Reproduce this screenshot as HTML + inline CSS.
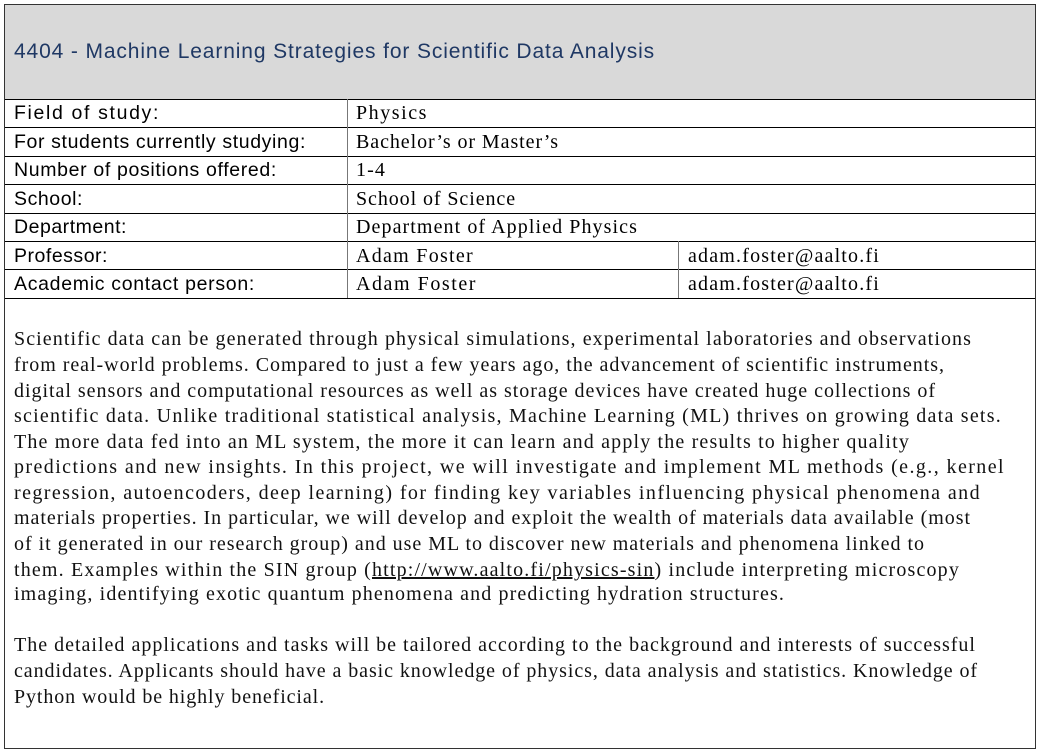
<!DOCTYPE html>
<html><head><meta charset="utf-8"><style>
body{margin:0;width:1039px;height:752px;background:#fff;position:relative;overflow:hidden}
.a{position:absolute}
.h{background:#000;height:1px}
.v{background:#000;width:1px}
.l{position:absolute;left:14px;font-family:"Liberation Sans",sans-serif;font-size:19.5px;color:#000;white-space:nowrap;line-height:28px}
.r{position:absolute;font-family:"Liberation Serif",serif;font-size:20px;color:#000;white-space:nowrap;line-height:28px}
.b{position:absolute;left:14px;font-family:"Liberation Serif",serif;font-size:20px;color:#111;white-space:nowrap;line-height:26px}
</style></head><body>
<div class="a" style="left:4px;top:4px;width:1030px;height:743px;border:1px solid #333"></div>
<div class="a" style="left:5px;top:5px;width:1030px;height:94px;background:#d9d9d9"></div>
<div class="a fit" data-w="641" style="left:14px;top:40px;font-family:'Liberation Sans',sans-serif;font-size:21px;color:#1f3864;white-space:nowrap">4404 - Machine Learning Strategies for Scientific Data Analysis</div>
<div id="grid"></div>
<div class="l fit" data-w="146" style="top:99px">Field of study:</div>
<div class="r fit" data-w="72" style="left:356px;top:99px">Physics</div>
<div class="l fit" data-w="292" style="top:128px">For students currently studying:</div>
<div class="r fit" data-w="203" style="left:356px;top:128px">Bachelor’s or Master’s</div>
<div class="l fit" data-w="263" style="top:156px">Number of positions offered:</div>
<div class="r fit" data-w="30" style="left:356px;top:156px">1-4</div>
<div class="l fit" data-w="69" style="top:185px">School:</div>
<div class="r fit" data-w="160" style="left:356px;top:185px">School of Science</div>
<div class="l fit" data-w="113" style="top:213px">Department:</div>
<div class="r fit" data-w="282" style="left:356px;top:213px">Department of Applied Physics</div>
<div class="l fit" data-w="94" style="top:242px">Professor:</div>
<div class="r fit" data-w="118" style="left:356px;top:242px">Adam Foster</div>
<div class="r fit" data-w="192" style="left:688px;top:242px">adam.foster@aalto.fi</div>
<div class="l fit" data-w="241" style="top:270px">Academic contact person:</div>
<div class="r fit" data-w="121" style="left:356px;top:270px">Adam Foster</div>
<div class="r fit" data-w="192" style="left:688px;top:270px">adam.foster@aalto.fi</div>

<div id="body">
<div class="b fit" data-w="958" style="top:326px">Scientific data can be generated through physical simulations, experimental laboratories and observations</div>
<div class="b fit" data-w="931" style="top:352px">from real-world problems. Compared to just a few years ago, the advancement of scientific instruments,</div>
<div class="b fit" data-w="922" style="top:378px">digital sensors and computational resources as well as storage devices have created huge collections of</div>
<div class="b fit" data-w="988" style="top:403px">scientific data. Unlike traditional statistical analysis, Machine Learning (ML) thrives on growing data sets.</div>
<div class="b fit" data-w="896" style="top:429px">The more data fed into an ML system, the more it can learn and apply the results to higher quality</div>
<div class="b fit" data-w="991" style="top:454px">predictions and new insights. In this project, we will investigate and implement ML methods (e.g., kernel</div>
<div class="b fit" data-w="967" style="top:480px">regression, autoencoders, deep learning) for finding key variables influencing physical phenomena and</div>
<div class="b fit" data-w="957" style="top:505px">materials properties. In particular, we will develop and exploit the wealth of materials data available (most</div>
<div class="b fit" data-w="911" style="top:531px">of it generated in our research group) and use ML to discover new materials and phenomena linked to</div>
<div class="b fit" data-w="946" style="top:557px">them. Examples within the SIN group (<span style="text-decoration:underline">http://www.aalto.fi/physics-sin</span>) include interpreting microscopy</div>
<div class="b fit" data-w="771" style="top:581px">imaging, identifying exotic quantum phenomena and predicting hydration structures.</div>
<div class="b fit" data-w="962" style="top:632px">The detailed applications and tasks will be tailored according to the background and interests of successful</div>
<div class="b fit" data-w="964" style="top:658px">candidates. Applicants should have a basic knowledge of physics, data analysis and statistics. Knowledge of</div>
<div class="b fit" data-w="311" style="top:684px">Python would be highly beneficial.</div>
</div>
<script>
var g=document.getElementById('grid');
var hs=[[5,99,1030],[5,127,1030],[5,156,1030],[5,184,1030],[5,213,1030],[5,241,1030],[5,269,1030],[5,298,1030]];
hs.forEach(function(h){var d=document.createElement('div');d.className='a h';d.style.left=h[0]+'px';d.style.top=h[1]+'px';d.style.width=h[2]+'px';


g.appendChild(d);});
var vs=[[347,99,199],[678,241,57]];
vs.forEach(function(v){var d=document.createElement('div');d.className='a v';d.style.left=v[0]+'px';d.style.top=v[1]+'px';d.style.height=v[2]+'px';d.style.background='#777';


g.appendChild(d);});
document.querySelectorAll('.fit').forEach(function(e){var w=+e.dataset.w;var n=e.textContent.length;var cw=e.getBoundingClientRect().width;e.style.letterSpacing=((w-cw)/n)+'px';});
</script>
</body></html>
